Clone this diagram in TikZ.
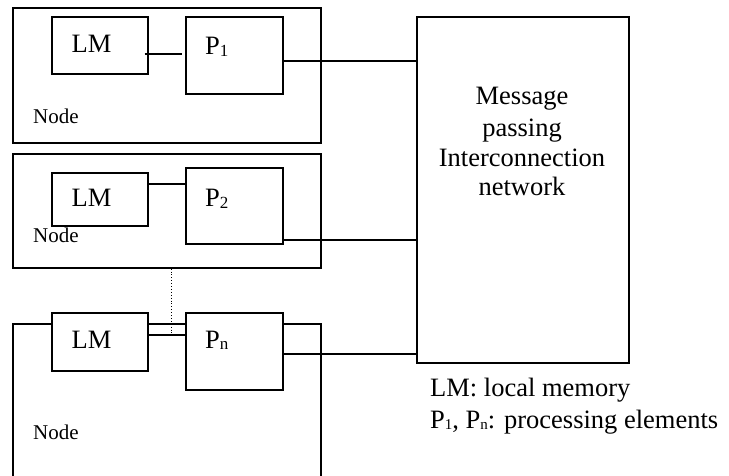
\documentclass[tikz,border=0pt]{standalone}
\usepackage{fontspec}
\setmainfont{Liberation Serif}
\newcommand{\subdigit}[1]{\raisebox{-1.5pt}{\fontsize{17}{17}\selectfont #1}}
\newcommand{\subsmall}[1]{\raisebox{-1pt}{\fontsize{15}{15}\selectfont #1}}
\begin{document}
\begin{tikzpicture}[x=1pt,y=-1pt,
  outer/.style={draw,line width=1.6pt,fill=white,inner sep=0pt,anchor=north west},
  inner/.style={draw,line width=1.6pt,fill=white,inner sep=0pt,anchor=north west},
  wire/.style={line width=1.2pt},
  big/.style={inner sep=0pt,font=\fontsize{26.5}{30}\selectfont},
  small/.style={inner sep=0pt,font=\fontsize{21}{24}\selectfont}]
\useasboundingbox (0,0) rectangle (729,476);

% processing nodes (outer frames)
\node[outer,minimum width=308pt,minimum height=135pt] (nb1) at (12,7.5) {};
\node[outer,minimum width=308pt,minimum height=114pt] (nb2) at (12,153) {};
\node[outer,minimum width=308pt,minimum height=154pt] (nb3) at (12,323) {};

% local memories and processors
\node[inner,minimum width=96pt,minimum height=57pt] (lm1) at (51,16) {};
\node[inner,minimum width=97pt,minimum height=77pt] (p1) at (185,16) {};
\node[inner,minimum width=96pt,minimum height=53pt] (lm2) at (51,172) {};
\node[inner,minimum width=97pt,minimum height=76pt] (p2) at (185,167) {};
\node[inner,minimum width=96pt,minimum height=58pt] (lm3) at (51,312) {};
\node[inner,minimum width=97pt,minimum height=77pt] (pn) at (185,312) {};

% interconnection network
\node[inner,minimum width=212pt,minimum height=346pt] (net) at (416,16) {};

% labels inside the boxes
\node[big,anchor=base west] (lm1t) at (71.5,52.7) {LM};
\node[big,anchor=base west] (lm2t) at (71.5,206.7) {LM};
\node[big,anchor=base west] (lm3t) at (71.5,348.3) {LM};
\node[big,anchor=base west] (p1t) at (205,55) {P\subdigit{1}};
\node[big,anchor=base west] (p2t) at (205,206.7) {P\subdigit{2}};
\node[big,anchor=base west] (pnt) at (205,348.3) {P\subdigit{n}};
\node[small,anchor=base west] (nd1) at (33,124) {Node};
\node[small,anchor=base west] (nd2) at (33,242.7) {Node};
\node[small,anchor=base west] (nd3) at (33,439) {Node};

\node[big,anchor=base] (nt1) at (522,105) {Message};
\node[big,anchor=base] (nt2) at (522,136.5) {passing};
\node[big,anchor=base] (nt3) at (522,166.5) {Interconnection};
\node[big,anchor=base] (nt4) at (522,195.7) {network};

% legend
\node[big,anchor=base west] (lg1) at (430,396.7) {LM: local memory};
\node[big,anchor=base west] (lg2) at (430,428) {P\subsmall{1}, P\subsmall{n}: processing elements};

% memory-processor links
\draw[wire] ([xshift=-4pt,yshift=-38pt]lm1.north east) -- ([xshift=-3pt,yshift=-38pt]p1.north west);
\draw[wire] ([yshift=-12pt]lm2.north east) -- ([yshift=-17pt]p2.north west);
\draw[wire] ([yshift=-23pt]lm3.north east) -- ([yshift=-23pt]pn.north west);

% processor-network links
\coordinate (o1) at ([yshift=-45pt]p1.north east);
\coordinate (o2) at ([yshift=-73pt]p2.north east);
\coordinate (o3) at ([yshift=-42pt]pn.north east);
\draw[wire] (o1) -- (o1 -| net.west);
\draw[wire] (o2) -- (o2 -| net.west);
\draw[wire] (o3) -- (o3 -| net.west);

% continuation between the second and the last node
\coordinate (dotend) at (171,337);
\draw[line width=0.9pt,dotted] (nb2.south west -| dotend) -- (dotend);
\end{tikzpicture}
\end{document}
